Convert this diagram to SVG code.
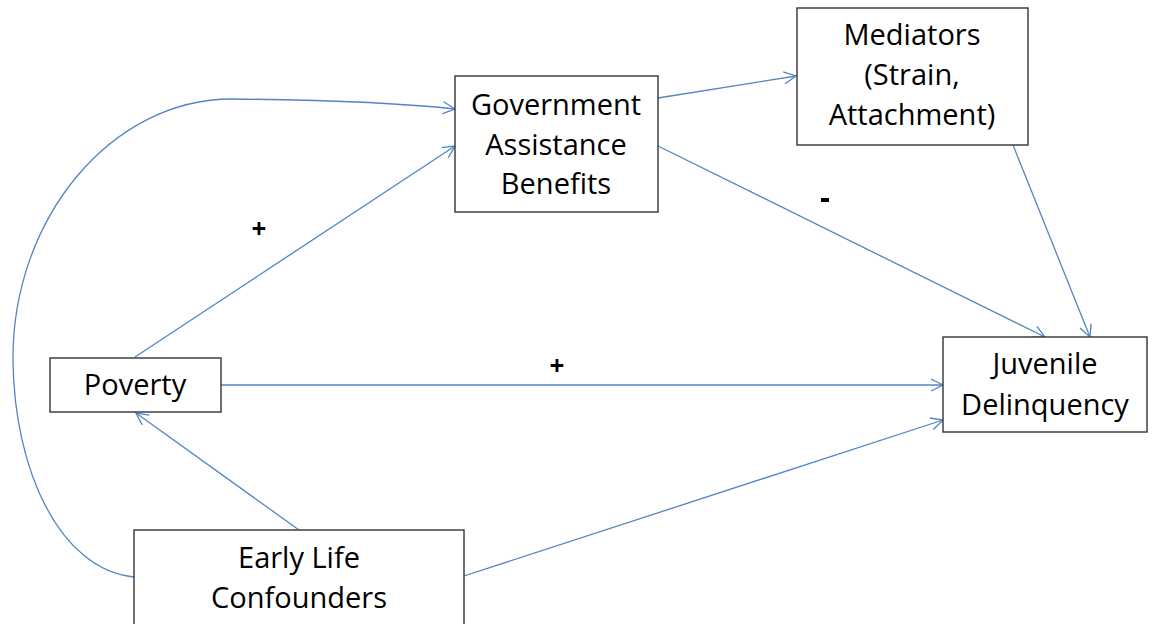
<svg xmlns="http://www.w3.org/2000/svg" width="1154" height="624" viewBox="0 0 1154 624">
  <style>
    .box { fill: #ffffff; stroke: #333333; stroke-width: 1.4; }
    .label { font-family: "Open Sans", "Liberation Sans", sans-serif; font-size: 29px; fill: #000000; text-anchor: middle; }
    .sign { font-family: "Open Sans", "Liberation Sans", sans-serif; font-size: 26px; font-weight: bold; fill: #000000; text-anchor: middle; }
    .edge { fill: none; stroke: #5285c3; stroke-width: 1.3; }
  </style>
  <defs>
    <marker id="arrow" markerUnits="userSpaceOnUse" markerWidth="16" markerHeight="16" viewBox="0 0 16 16" refX="14" refY="8" orient="auto">
      <path d="M2,2 L14,8 L2,14" fill="none" stroke="#5285c3" stroke-width="1.3"/>
    </marker>
  </defs>

  <rect width="1154" height="624" fill="#ffffff"/>

  <!-- connectors -->
  <g id="connectors">
    <path class="edge" d="M134,577 C60,570 14,470 13,360 C12,220 110,99 232,99 C330,100 400,103 455,109" marker-end="url(#arrow)"/>
    <line class="edge" x1="135" y1="357" x2="455" y2="146" marker-end="url(#arrow)"/>
    <line class="edge" x1="658" y1="98" x2="796" y2="76" marker-end="url(#arrow)"/>
    <line class="edge" x1="658" y1="146" x2="1045" y2="337" marker-end="url(#arrow)"/>
    <line class="edge" x1="1013" y1="145" x2="1090" y2="337" marker-end="url(#arrow)"/>
    <line class="edge" x1="220" y1="385" x2="943" y2="385" marker-end="url(#arrow)"/>
    <line class="edge" x1="299" y1="530" x2="136" y2="413" marker-end="url(#arrow)"/>
    <line class="edge" x1="464" y1="576" x2="943" y2="420" marker-end="url(#arrow)"/>
    <text class="sign" x="259" y="238">+</text>
    <text class="sign" x="557" y="375">+</text>
    <rect x="821" y="198" width="8" height="4" fill="#000000"/>
  </g>

  <g id="government">
    <rect class="box" x="455" y="76" width="203" height="136"/>
    <text class="label" x="556" y="115">Government</text>
    <text class="label" x="556" y="155">Assistance</text>
    <text class="label" x="556" y="194">Benefits</text>
  </g>

  <g id="mediators">
    <rect class="box" x="797" y="8" width="231" height="137"/>
    <text class="label" x="912" y="45">Mediators</text>
    <text class="label" x="912" y="85">(Strain,</text>
    <text class="label" x="912" y="125">Attachment)</text>
  </g>

  <g id="juvenile">
    <rect class="box" x="943" y="337" width="204" height="95"/>
    <text class="label" x="1045" y="374">Juvenile</text>
    <text class="label" x="1045" y="415">Delinquency</text>
  </g>

  <g id="poverty">
    <rect class="box" x="50" y="358" width="171" height="54"/>
    <text class="label" x="135" y="395">Poverty</text>
  </g>

  <g id="early-life">
    <rect class="box" x="134" y="530" width="330" height="110"/>
    <text class="label" x="299" y="568">Early Life</text>
    <text class="label" x="299" y="608">Confounders</text>
  </g>
</svg>
